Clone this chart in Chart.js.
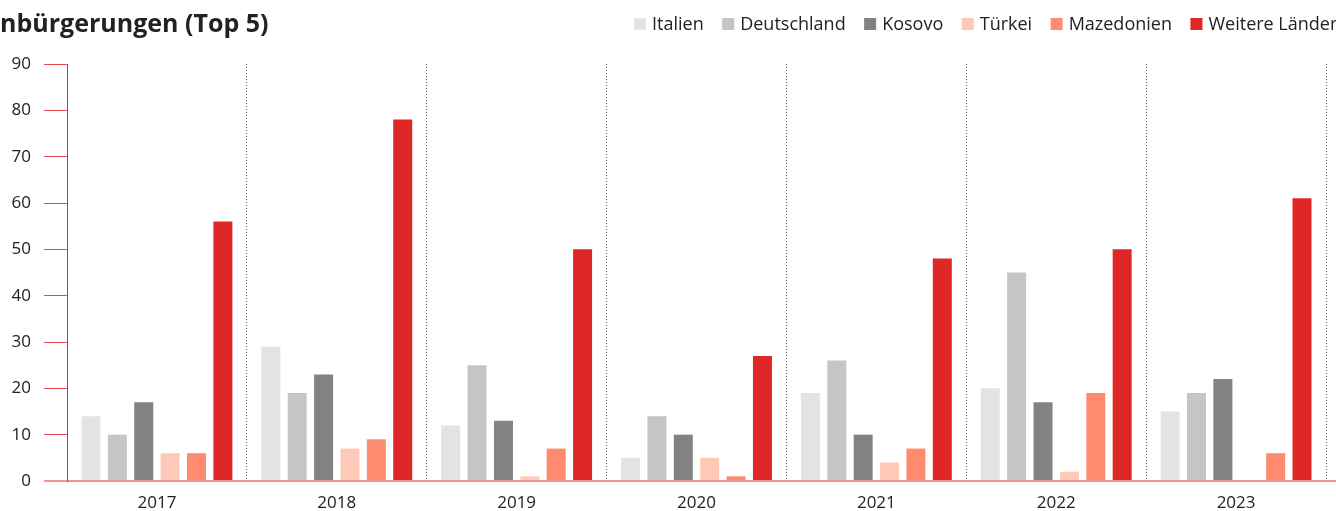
<!DOCTYPE html>
<html>
<head>
<meta charset="utf-8">
<script src="https://cdn.jsdelivr.net/npm/chart.js@4/dist/chart.umd.min.js"></script>
<style>
  html, body { margin: 0; padding: 0; background: #fff; }
  #wrap { width: 1336px; height: 511px; position: relative; }
</style>
</head>
<body>
<div id="wrap"><canvas id="c" width="1336" height="511"></canvas></div>
<script>
const title = "Einbürgerungen (Top 5)";
const years = ["2017", "2018", "2019", "2020", "2021", "2022", "2023"];
const seriesNames = ["Italien", "Deutschland", "Kosovo", "Türkei", "Mazedonien", "Weitere Länder"];
const italien     = [14, 29, 12, 5, 19, 20, 15];
const deutschland = [10, 19, 25, 14, 26, 45, 19];
const kosovo      = [17, 23, 13, 10, 10, 17, 22];
const tuerkei     = [6, 7, 1, 5, 4, 2, 0];
const mazedonien  = [6, 9, 7, 1, 7, 19, 6];
const weitere     = [56, 78, 50, 27, 48, 50, 61];
const yTicks = [0, 10, 20, 30, 40, 50, 60, 70, 80, 90];

const seriesValues = [italien, deutschland, kosovo, tuerkei, mazedonien, weitere];
const colors = ["#e3e3e3", "#c5c5c5", "#828282", "#ffc9b7", "#ff8b6f", "#e02727"];
const FONT = "'Open Sans', 'Noto Sans', sans-serif";
const ZERO_COLOR = 'rgba(232,60,60,0.55)';

const overlayPlugin = {
  id: 'overlay',
  afterDraw(chart) {
    const ctx = chart.ctx;
    ctx.save();
    // extend zero line past the plot area to the right edge, as in the reference
    const y0 = chart.scales.y.getPixelForValue(0);
    ctx.strokeStyle = ZERO_COLOR;
    ctx.lineWidth = 2;
    ctx.beginPath();
    ctx.moveTo(chart.chartArea.right, y0);
    ctx.lineTo(chart.width, y0);
    ctx.stroke();
    // Title (left part clipped by the canvas edge, as in the reference)
    ctx.font = "bold 25px " + FONT;
    ctx.fillStyle = "#222";
    ctx.textBaseline = "alphabetic";
    ctx.textAlign = "left";
    const off = ctx.measureText("Ei").width;
    ctx.fillText(title, -off, 32);
    // Legend
    ctx.font = "18px " + FONT;
    ctx.textBaseline = "middle";
    let x = 634;
    chart.data.datasets.forEach((ds) => {
      ctx.fillStyle = ds.backgroundColor;
      ctx.fillRect(x, 18, 12, 12);
      ctx.fillStyle = "#222";
      ctx.fillText(ds.label, x + 18, 24.5);
      x += 18 + ctx.measureText(ds.label).width + 18.5;
    });
    ctx.restore();
  }
};

new Chart(document.getElementById('c'), {
  type: 'bar',
  data: {
    labels: years,
    datasets: seriesNames.map((n, i) => ({
      label: n,
      data: seriesValues[i],
      backgroundColor: colors[i],
      borderWidth: 0,
      categoryPercentage: 0.88,
      barPercentage: 0.72
    }))
  },
  options: {
    responsive: false,
    animation: false,
    devicePixelRatio: 1,
    layout: { padding: { left: 0, right: 10, top: 64, bottom: 0 } },
    plugins: {
      legend: { display: false },
      title: { display: false },
      tooltip: { enabled: false }
    },
    scales: {
      x: {
        offset: true,
        grid: {
          offset: true,
          drawTicks: false,
          color: (c) => c.index === 0 ? 'rgba(0,0,0,0)' : 'rgba(70,70,70,0.85)',
          lineWidth: 1
        },
        border: { display: false, dash: [1, 2] },
        ticks: {
          padding: 12,
          color: '#222',
          font: { family: FONT, size: 17 }
        },
        afterFit: (s) => { s.height = 30; }
      },
      y: {
        z: 1,
        min: 0,
        max: 90,
        afterBuildTicks: (s) => { s.ticks = yTicks.map(v => ({ value: v })); },
        grid: {
          drawOnChartArea: true,
          color: (c) => (c.tick && c.tick.value === 0) ? ZERO_COLOR : 'rgba(0,0,0,0)',
          lineWidth: (c) => (c.tick && c.tick.value === 0) ? 2 : 1,
          tickColor: (c) => (c.tick && c.tick.value === 0) ? ZERO_COLOR : 'rgba(224,40,40,0.85)',
          tickLength: 23,
          tickWidth: (c) => (c.tick && c.tick.value === 0) ? 2 : 1
        },
        border: { display: true, color: '#e03030', width: 1 },
        ticks: {
          padding: 13,
          color: '#222',
          font: { family: FONT, size: 17 }
        },
        afterFit: (s) => { s.width = 67; }
      }
    }
  },
  plugins: [overlayPlugin]
});
</script>
</body>
</html>
